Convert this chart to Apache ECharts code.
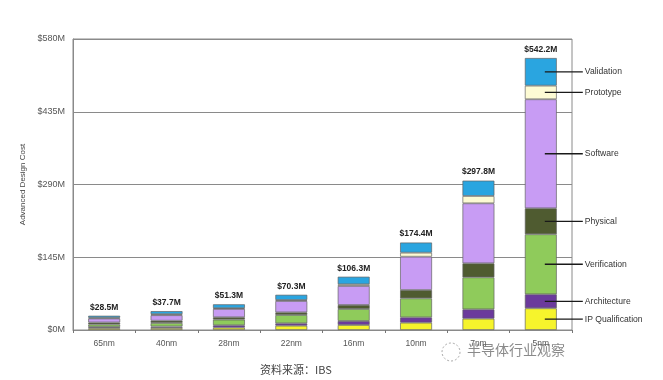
<!DOCTYPE html>
<html>
<head>
<meta charset="utf-8">
<script src="https://cdn.jsdelivr.net/npm/echarts@6/dist/echarts.min.js"></script>
<style>
html,body{margin:0;padding:0;background:#fff;}
#c{width:663px;height:380px;}
</style>
</head>
<body>
<div id="c"></div>
<script>
const categories = ['65nm','40nm','28nm','22nm','16nm','10nm','7nm','5nm'];
const totals = [28.5, 37.7, 51.3, 70.3, 106.3, 174.4, 297.8, 542.2];
const ipQualification = [3.5, 4, 4.7, 8.6, 10, 14.6, 22.6, 43.3];
const architecture = [2.5, 3, 4.7, 4.7, 8, 10.6, 18.6, 27.9];
const verification = [5, 7, 11.3, 16.6, 23.9, 37.9, 63.8, 119.6];
const physical = [4, 4.5, 4.7, 5.3, 8, 16.6, 27.9, 51.8];
const software = [8, 11, 16.6, 22.6, 37.9, 66.4, 119.6, 217.3];
const prototype = [1.5, 2, 1.5, 2, 3.3, 8, 14.6, 27.1];
const validation = [4, 6.2, 7.8, 10.5, 15.2, 20.3, 30.7, 55.2];
const yTicks = [0, 145, 290, 435, 580];

const segNames = ['IP Qualification','Architecture','Verification','Physical','Software','Prototype','Validation'];
const segData = [ipQualification, architecture, verification, physical, software, prototype, validation];
const segColors = ['#f6f42c','#6b3a9c','#8fcb5b','#4f5b30','#c89cf4','#fdfbd4','#2aa5e0'];

const FONT = 'Liberation Sans';
const last = categories.length - 1;

const series = segNames.map((name, i) => ({
  name: name,
  type: 'bar',
  stack: 'total',
  barWidth: 32,
  data: segData[i],
  itemStyle: { color: segColors[i], borderColor: 'rgba(95,95,95,0.85)', borderWidth: 0.8 },
  label: i === segNames.length - 1 ? {
    show: true, position: 'top', distance: 4,
    formatter: p => '$' + totals[p.dataIndex].toFixed(1) + 'M',
    fontFamily: FONT, fontWeight: 'bold', fontSize: 8.5, color: '#222'
  } : { show: false },
  emphasis: { disabled: true },
  z: 2
}));

// annotation points: middle of each segment of the last bar
const annot = [];
let cum = 0;
segData.forEach((arr, i) => {
  annot.push([last, cum + arr[last] / 2, segNames[i]]);
  cum += arr[last];
});

series.push({
  type: 'custom',
  coordinateSystem: 'cartesian2d',
  data: annot,
  clip: false,
  z: 5,
  silent: true,
  renderItem: (params, api) => {
    const p = api.coord([api.value(0), api.value(1)]);
    return {
      type: 'group',
      children: [
        { type: 'line', shape: { x1: p[0] + 4, y1: p[1], x2: p[0] + 42, y2: p[1] },
          style: { stroke: '#1a1a1a', lineWidth: 1.3 } },
        { type: 'text', style: { x: p[0] + 44, y: p[1], text: annot[params.dataIndex][2],
          fill: '#333', font: '8.6px "' + FONT + '"', textVerticalAlign: 'middle', textAlign: 'left' } }
      ]
    };
  }
});

const chart = echarts.init(document.getElementById('c'), null, { renderer: 'canvas' });
chart.setOption({
  animation: false,
  backgroundColor: '#fff',
  grid: { left: 73, right: 91, top: 39, bottom: 50, show: true, borderColor: '#8a8a8a', borderWidth: 1 },
  xAxis: {
    type: 'category',
    data: categories,
    axisLine: { lineStyle: { color: '#8a8a8a', width: 1 } },
    axisTick: { show: true, length: 3, lineStyle: { color: '#777' } },
    axisLabel: { fontFamily: FONT, fontSize: 8.5, color: '#555', margin: 9 }
  },
  yAxis: {
    type: 'value',
    min: yTicks[0],
    max: yTicks[yTicks.length - 1],
    interval: yTicks[1] - yTicks[0],
    name: 'Advanced Design Cost',
    nameLocation: 'middle',
    nameGap: 43,
    nameTextStyle: { fontFamily: FONT, fontSize: 8, color: '#444' },
    axisLine: { show: true, lineStyle: { color: '#8a8a8a' } },
    axisTick: { show: false },
    axisLabel: { fontFamily: FONT, fontSize: 9, color: '#555', margin: 8, formatter: v => '$' + v + 'M' },
    splitLine: { lineStyle: { color: '#8a8a8a', width: 1.2 } }
  },
  series: series,
  graphic: [
    { type: 'text', left: 260, top: 364, style: { text: '资料来源：IBS', fill: '#444', font: '11px "Noto Sans CJK SC"' } },
    { type: 'circle', shape: { cx: 451, cy: 352, r: 9 }, style: { fill: 'none', stroke: '#aaa', lineWidth: 1, lineDash: [2, 2] } },
    { type: 'text', left: 467, top: 343, style: { text: '半导体行业观察', fill: '#8a8a8a', font: '14px "Noto Sans CJK SC"' } }
  ]
});
</script>
</body>
</html>
